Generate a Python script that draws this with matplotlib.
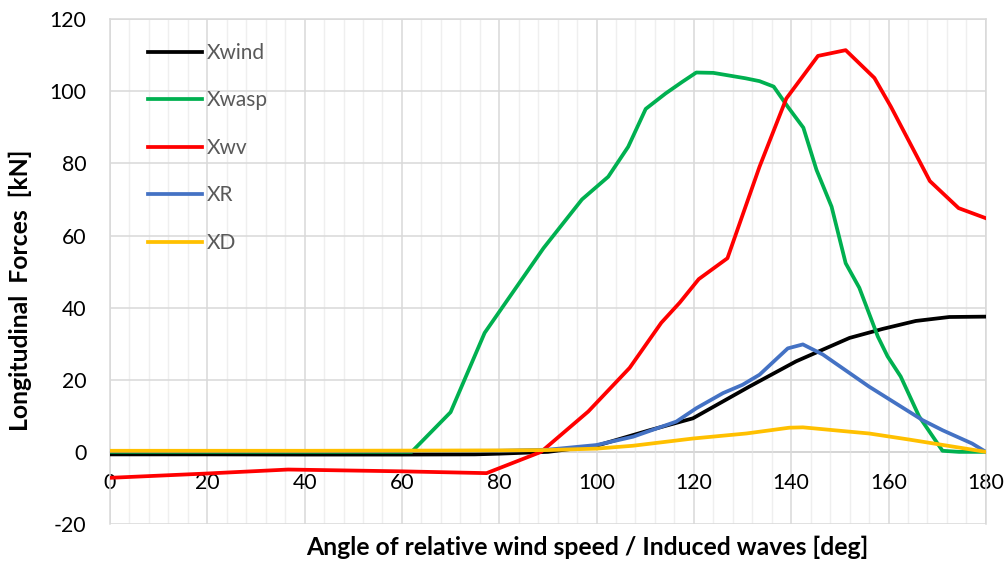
import matplotlib
matplotlib.use("Agg")
import matplotlib.pyplot as plt
from matplotlib.ticker import MultipleLocator

plt.rcParams['font.family'] = ['Lato', 'DejaVu Sans']
plt.rcParams['axes.unicode_minus'] = False

# ---- data ----
x_wind = [0, 20, 40, 60, 75, 80, 90, 100, 110.9, 119.8, 131.4, 141, 152, 158.8, 165.6, 172.5, 180]
y_wind = [-0.7, -0.7, -0.75, -0.75, -0.7, -0.5, 0.0, 1.7, 6.0, 9.3, 18.1, 25.1, 31.6, 34.1, 36.3, 37.4, 37.5]

x_wasp = [0, 62, 70, 77, 89.1, 97, 102.4, 106.5, 110.1, 114.2, 117.5, 120.5, 124, 130.6, 133.5,
          136.4, 139.3, 142.5, 145.2, 148.3, 151.2, 154, 157.8, 159.8, 162.5, 166.3, 171.1, 174.5, 180]
y_wasp = [0, 0, 11, 33, 56.5, 70, 76.3, 84.6, 95.1, 99.4, 102.5, 105.2, 105.1, 103.6, 102.8,
          101.3, 95.7, 89.9, 78.2, 68, 52.3, 45.5, 32, 26.5, 20.9, 9.8, 0.3, 0, 0]

x_wv = [0, 20, 36.6, 60, 77.4, 88.6, 98.3, 106.8, 113.3, 117.1, 121, 126.9, 133.5, 139, 145.5,
        151.2, 157.1, 160.5, 168.5, 174.4, 180]
y_wv = [-7.2, -6.0, -4.9, -5.4, -5.9, 0.0, 11.2, 23.3, 35.8, 41.4, 47.9, 53.7, 79.1, 98, 109.8,
        111.4, 103.7, 95.7, 75.1, 67.6, 64.8]

x_r = [0, 40, 80, 90, 100, 107.5, 116.4, 120.5, 126, 130, 133.5, 139.3, 142.4, 146.5, 156, 167,
       171.1, 177.2, 180]
y_r = [0.2, 0.2, 0.3, 0.6, 1.9, 4.2, 8.4, 12.1, 16.3, 18.6, 21.4, 28.7, 29.8, 27.0, 18.1, 8.8,
       6.0, 2.3, 0.0]

x_d = [0, 40, 80, 90, 100, 107.5, 119.8, 130.8, 139.6, 142.4, 156, 164.3, 180]
y_d = [0.3, 0.3, 0.4, 0.5, 0.9, 1.7, 3.7, 5.1, 6.7, 6.8, 5.1, 3.4, 0.0]

series_labels = ['Xwind', 'Xwasp', 'Xwv', 'XR', 'XD']
series_colors = ['#000000', '#00B050', '#FF0000', '#4472C4', '#FFC000']

# ---- figure ----
fig = plt.figure(figsize=(10.08, 5.63), dpi=100)
ax = fig.add_axes([0.1091, 0.0693, 0.978 - 0.1091, 0.966 - 0.0693])

data = [(x_wind, y_wind), (x_wasp, y_wasp), (x_wv, y_wv), (x_r, y_r), (x_d, y_d)]
for (xs, ys), lab, col in zip(data, series_labels, series_colors):
    ax.plot(xs, ys, color=col, lw=2.7, label=lab, solid_joinstyle='round', zorder=3)

ax.set_xlim(0, 180)
ax.set_ylim(-20, 120)
ax.xaxis.set_major_locator(MultipleLocator(20))
ax.xaxis.set_minor_locator(MultipleLocator(4))
ax.yaxis.set_major_locator(MultipleLocator(20))

ax.grid(which='major', axis='both', color='#d9d9d9', lw=1.1, zorder=0)
ax.grid(which='minor', axis='x', color='#efefef', lw=1.0, zorder=0)

for s in ['top', 'right', 'left']:
    ax.spines[s].set_color('#d9d9d9')
    ax.spines[s].set_linewidth(1.1)
ax.spines['bottom'].set_position(('data', 0))
ax.spines['bottom'].set_color('#bfbfbf')
ax.spines['bottom'].set_linewidth(1.1)
ax.spines['bottom'].set_zorder(1)

ax.tick_params(which='both', length=0, labelsize=15.3, colors='black')
ax.tick_params(axis='x', pad=15.5)
ax.tick_params(axis='y', pad=17)

ax.set_xlabel('Angle of relative wind speed / Induced waves [deg]', fontsize=17.8,
              fontweight='bold')
ax.xaxis.set_label_coords(0.545, -0.024)
ax.set_ylabel('Longitudinal  Forces  [kN]', fontsize=17.8, fontweight='bold')
ax.yaxis.set_label_coords(-0.089, 0.463)

leg = ax.legend(loc='upper left', bbox_to_anchor=(0.0224, 0.99), frameon=False,
                fontsize=15, handlelength=2.59, handletextpad=0.2, labelspacing=1.32)
for t in leg.get_texts():
    t.set_color('#595959')

fig.savefig('out.png', dpi=100)
